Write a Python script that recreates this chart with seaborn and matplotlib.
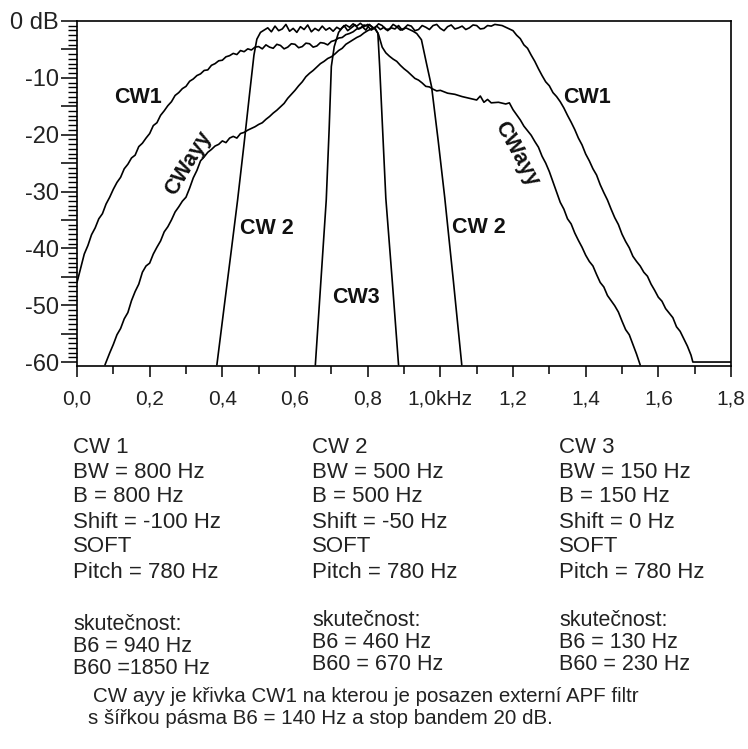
import numpy as np
import pandas as pd
import matplotlib
matplotlib.use("Agg")
import matplotlib.pyplot as plt
import seaborn as sns
from matplotlib.ticker import MultipleLocator

# ---------------- data (frequency in kHz, attenuation in dB) ----------------
cw1_f = [0.000, 0.010, 0.020, 0.030, 0.040, 0.050, 0.060, 0.070, 0.080, 0.090,
         0.100, 0.110, 0.120, 0.130, 0.140, 0.150, 0.160, 0.170, 0.180, 0.190,
         0.200, 0.210, 0.220, 0.230, 0.240, 0.250, 0.260, 0.270, 0.280, 0.290,
         0.300, 0.310, 0.320, 0.330, 0.340, 0.350, 0.360, 0.370, 0.380, 0.390,
         0.400, 0.410, 0.420, 0.430, 0.440, 0.450, 0.460, 0.470, 0.480, 0.490,
         0.500, 0.510, 0.520, 0.530, 0.540, 0.550, 0.560, 0.570, 0.580, 0.590,
         0.600, 0.610, 0.620, 0.630, 0.640, 0.650, 0.660, 0.670, 0.680, 0.690,
         0.700, 0.710, 0.720, 0.730, 0.740, 0.750, 0.760, 0.770, 0.780, 0.790,
         0.800, 0.810, 0.820, 0.830, 0.840, 0.850, 0.860, 0.870, 0.880, 0.890,
         0.900, 0.910, 0.920, 0.930, 0.940, 0.950, 0.960, 0.970, 0.980, 0.990,
         1.000, 1.010, 1.020, 1.030, 1.040, 1.050, 1.060, 1.070, 1.080, 1.090,
         1.100, 1.110, 1.120, 1.130, 1.140, 1.150, 1.160, 1.170, 1.180, 1.190,
         1.200, 1.210, 1.220, 1.230, 1.240, 1.250, 1.260, 1.270, 1.280, 1.290,
         1.300, 1.310, 1.320, 1.330, 1.340, 1.350, 1.360, 1.370, 1.380, 1.390,
         1.400, 1.410, 1.420, 1.430, 1.440, 1.450, 1.460, 1.470, 1.480, 1.490,
         1.500, 1.510, 1.520, 1.530, 1.540, 1.550, 1.560, 1.570, 1.580, 1.590,
         1.600, 1.610, 1.620, 1.630, 1.640, 1.650, 1.660, 1.670, 1.680, 1.690,
         1.695, 1.800]
cw1_db = [-46.0, -43.5, -41.0, -39.5, -37.6, -36.4, -34.8, -33.9, -32.2, -31.0,
          -29.6, -28.4, -27.5, -26.0, -25.2, -24.1, -23.6, -22.1, -21.5, -20.6,
          -19.8, -18.4, -17.9, -16.6, -15.8, -14.9, -14.2, -13.1, -12.6, -11.9,
          -11.5, -10.6, -10.2, -9.6, -9.3, -8.7, -8.6, -7.8, -7.5, -7.0,
          -6.9, -6.3, -6.1, -5.7, -5.9, -5.2, -5.4, -4.9, -5.1, -4.6,
          -4.5, -4.9, -4.2, -4.6, -4.8, -4.1, -4.3, -4.9, -4.6, -4.0,
          -4.1, -4.7, -4.5, -3.9, -4.0, -4.6, -4.4, -3.8, -3.9, -4.2,
          -3.6, -3.4, -3.0, -2.9, -2.4, -2.2, -1.9, -1.4, -1.3, -0.7,
          -0.9, -1.6, -1.2, -0.5, -0.8, -1.5, -1.4, -0.6, -1.0, -1.6,
          -1.3, -0.7, -0.9, -1.7, -1.5, -0.8, -1.1, -1.5, -0.8, -0.6,
          -1.3, -1.7, -1.0, -0.7, -1.4, -1.2, -0.9, -1.5, -1.2, -0.7,
          -0.8, -1.4, -1.3, -0.8, -0.9, -0.6, -0.7, -0.8, -1.1, -1.4,
          -1.7, -2.5, -3.1, -4.2, -4.8, -6.0, -7.1, -8.4, -9.6, -10.7,
          -11.4, -12.6, -13.3, -14.2, -15.3, -16.6, -17.8, -19.1, -20.6, -21.8,
          -23.4, -24.6, -26.0, -27.1, -28.8, -30.2, -31.5, -33.1, -34.6, -35.8,
          -37.5, -38.8, -39.9, -41.4, -42.3, -43.1, -44.2, -44.9, -46.3, -47.4,
          -48.6, -49.3, -50.6, -51.4, -52.2, -53.8, -54.6, -55.9, -57.2, -58.8,
          -60.0, -60.0]

cwayy_f = [0.077, 0.090, 0.100, 0.110, 0.120, 0.130, 0.140, 0.150, 0.160, 0.170,
           0.180, 0.190, 0.200, 0.210, 0.220, 0.230, 0.240, 0.250, 0.260, 0.270,
           0.280, 0.290, 0.300, 0.310, 0.320, 0.330, 0.340, 0.350, 0.360, 0.370,
           0.380, 0.390, 0.400, 0.410, 0.420, 0.430, 0.440, 0.450, 0.460, 0.470,
           0.480, 0.490, 0.500, 0.510, 0.520, 0.530, 0.540, 0.550, 0.560, 0.570,
           0.580, 0.590, 0.600, 0.610, 0.620, 0.630, 0.640, 0.650, 0.660, 0.670,
           0.680, 0.690, 0.700, 0.710, 0.720, 0.730, 0.740, 0.750, 0.760, 0.770,
           0.780, 0.790, 0.800, 0.810, 0.820, 0.830, 0.840, 0.850, 0.860, 0.870,
           0.880, 0.890, 0.900, 0.910, 0.920, 0.930, 0.940, 0.950, 0.960, 0.970,
           0.980, 0.990, 1.000, 1.020, 1.040, 1.060, 1.080, 1.100, 1.110, 1.120,
           1.130, 1.140, 1.160, 1.180, 1.190, 1.200, 1.210, 1.220, 1.230, 1.240,
           1.250, 1.260, 1.270, 1.280, 1.290, 1.300, 1.310, 1.320, 1.330, 1.340,
           1.350, 1.360, 1.370, 1.380, 1.390, 1.400, 1.410, 1.420, 1.430, 1.440,
           1.450, 1.460, 1.470, 1.480, 1.490, 1.500, 1.510, 1.520, 1.530, 1.540,
           1.550]
cwayy_db = [-60.5, -58.4, -56.9, -55.2, -54.1, -52.4, -51.3, -49.2, -47.6, -46.3,
            -44.2, -43.1, -42.6, -41.0, -39.8, -38.7, -37.1, -36.2, -35.0, -33.6,
            -32.7, -31.7, -31.0, -29.4, -27.6, -26.3, -24.6, -23.9, -23.1, -22.6,
            -22.0, -21.7, -21.1, -21.4, -20.6, -20.3, -20.6, -19.8, -19.6, -19.2,
            -18.9, -18.6, -18.2, -17.9, -17.3, -16.8, -16.2, -15.7, -15.1, -14.5,
            -13.6, -12.9, -12.2, -11.4, -10.7, -9.8, -9.2, -8.7, -8.1, -7.5,
            -7.1, -6.6, -6.3, -5.8, -5.2, -4.8, -4.1, -3.7, -3.3, -2.9,
            -2.6, -2.1, -1.7, -1.4, -1.2, -2.4, -4.6, -5.6, -6.2, -6.7,
            -7.1, -7.8, -8.4, -8.9, -9.5, -10.1, -10.4, -10.9, -11.5, -11.6,
            -12.0, -12.3, -12.2, -12.7, -12.9, -13.3, -13.6, -13.9, -13.2, -14.3,
            -13.8, -14.4, -14.3, -14.6, -14.4, -15.6, -16.5, -17.4, -18.5, -19.3,
            -20.1, -21.2, -22.2, -23.8, -25.0, -26.5, -28.3, -30.1, -31.9, -33.1,
            -34.8, -35.7, -37.3, -38.6, -39.8, -41.2, -42.3, -43.1, -44.6, -46.0,
            -46.8, -48.3, -49.2, -50.1, -51.2, -52.8, -54.3, -55.2, -56.9, -58.6,
            -60.5]

cw2_f = [0.385, 0.405, 0.425, 0.442, 0.460, 0.475, 0.487, 0.495, 0.505, 0.515,
         0.525, 0.535, 0.545, 0.555, 0.565, 0.575, 0.585, 0.595, 0.605, 0.615,
         0.625, 0.635, 0.645, 0.655, 0.665, 0.675, 0.685, 0.695, 0.705, 0.715,
         0.725, 0.735, 0.745, 0.755, 0.765, 0.775, 0.785, 0.795, 0.805, 0.815,
         0.825, 0.835, 0.845, 0.855, 0.865, 0.875, 0.885, 0.895, 0.905, 0.915,
         0.925, 0.935, 0.948, 0.962, 0.976, 0.994, 1.012, 1.036, 1.059]
cw2_db = [-60.5, -50.3, -40.2, -31.5, -21.5, -12.8, -6.0, -3.2, -2.0, -1.6,
          -1.2, -1.9, -0.9, -1.7, -1.4, -0.6, -1.8, -1.3, -2.0, -1.0,
          -1.5, -0.7, -1.9, -1.3, -1.7, -0.9, -1.6, -1.2, -1.8, -1.1,
          -1.5, -0.8, -1.7, -1.2, -0.7, -1.4, -1.0, -1.6, -0.6, -1.3,
          -0.9, -1.5, -1.1, -1.7, -1.2, -1.4, -0.8, -1.6, -1.2, -1.5,
          -1.8, -2.2, -3.3, -7.5, -11.6, -21.0, -31.0, -45.8, -60.5]

cw3_f = [0.656, 0.671, 0.686, 0.694, 0.700, 0.708, 0.720, 0.730, 0.740, 0.750,
         0.760, 0.770, 0.780, 0.790, 0.800, 0.810, 0.820, 0.828, 0.833, 0.850,
         0.868, 0.885]
cw3_db = [-60.5, -46.0, -31.5, -19.0, -8.0, -4.5, -2.0, -1.2, -0.7, -1.1,
          -0.5, -0.9, -0.4, -1.0, -0.6, -0.9, -1.4, -2.1, -8.0, -31.2,
          -46.0, -60.5]

x_ticks = [0.0, 0.2, 0.4, 0.6, 0.8, 1.0, 1.2, 1.4, 1.6, 1.8]
x_labels = ["0,0", "0,2", "0,4", "0,6", "0,8", "1,0kHz", "1,2", "1,4", "1,6", "1,8"]
y_ticks = [0, -5, -10, -15, -20, -25, -30, -35, -40, -45, -50, -55, -60]
y_labels = ["0 dB", "", "-10", "", "-20", "", "-30", "", "-40", "", "-50", "", "-60"]

# curve labels: text, x (kHz), y (dB), rotation
curve_labels = [("CW1", 0.169, -13.5, 0), ("CW1", 1.405, -13.4, 0),
                ("CWayy", 0.307, -25.0, 59), ("CWayy", 1.209, -23.4, -61),
                ("CW 2", 0.522, -36.5, 0), ("CW 2", 1.107, -36.3, 0),
                ("CW3", 0.767, -48.6, 0)]

col1 = ["CW 1", "BW = 800 Hz", "B = 800 Hz", "Shift = -100 Hz", "SOFT", "Pitch = 780 Hz"]
col2 = ["CW 2", "BW = 500 Hz", "B = 500 Hz", "Shift = -50 Hz", "SOFT", "Pitch = 780 Hz"]
col3 = ["CW 3", "BW = 150 Hz", "B = 150 Hz", "Shift = 0 Hz", "SOFT", "Pitch = 780 Hz"]
real1 = ["skutečnost:", "B6 = 940 Hz", "B60 =1850 Hz"]
real2 = ["skutečnost:", "B6 = 460 Hz", "B60 = 670 Hz"]
real3 = ["skutečnost:", "B6 = 130 Hz", "B60 = 230 Hz"]
note = ["CW ayy je křivka CW1 na kterou je posazen externí APF filtr",
        "s šířkou pásma B6 = 140 Hz a stop bandem 20 dB."]

# ---------------- figure ----------------
sns.set_theme(style="ticks")
plt.rcParams['font.family'] = ['Liberation Sans', 'DejaVu Sans']
plt.rcParams['axes.edgecolor'] = 'black'
plt.rcParams['xtick.color'] = 'black'
plt.rcParams['ytick.color'] = 'black'

W, H = 748, 749
fig = plt.figure(figsize=(W / 100, H / 100), dpi=100)
fig.patch.set_facecolor('white')
ax = fig.add_axes([77 / W, 1 - 366 / H, (731 - 77) / W, (366 - 21) / H])
ax.set_facecolor('white')

df = pd.concat([
    pd.DataFrame({"f": cw1_f, "db": cw1_db, "curve": "CW1"}),
    pd.DataFrame({"f": cwayy_f, "db": cwayy_db, "curve": "CWayy"}),
    pd.DataFrame({"f": cw2_f, "db": cw2_db, "curve": "CW2"}),
    pd.DataFrame({"f": cw3_f, "db": cw3_db, "curve": "CW3"}),
], ignore_index=True)

sns.lineplot(data=df, x="f", y="db", units="curve", estimator=None, sort=False,
             color="black", linewidth=1.2, ax=ax, legend=False)

ax.set_xlim(0, 1.8)
ax.set_ylim(-60.7, 0)
ax.set_xlabel("")
ax.set_ylabel("")
ax.set_xticks(x_ticks)
ax.set_xticklabels(x_labels)
ax.xaxis.set_minor_locator(MultipleLocator(0.1))
ax.set_yticks(y_ticks)
ax.set_yticklabels(y_labels)
ax.yaxis.set_minor_locator(MultipleLocator(5 / 6))

ax.tick_params(axis='x', which='major', direction='out', length=8, width=1.1, pad=9,
               labelsize=15, colors='black', labelcolor='#222222')
ax.tick_params(axis='x', which='minor', direction='out', length=5.5, width=1.1)
ax.tick_params(axis='y', which='major', direction='out', length=11.5, width=1.1, pad=1.5,
               labelsize=17, colors='black', labelcolor='#222222')
ax.tick_params(axis='y', which='minor', direction='out', length=6.5, width=1.0)
ax.tick_params(top=False, right=False, which='both')
for sp in ax.spines.values():
    sp.set_visible(True)
    sp.set_linewidth(1.2)
    sp.set_color('black')

for txt, x, y, rot in curve_labels:
    ax.text(x, y, txt, ha='center', va='center', fontsize=15.5, fontweight='bold',
            rotation=rot, rotation_mode='anchor', color='#111111')

# ---------------- text block below the chart ----------------
def ftext(px, py, s, size=16):
    fig.text(px / W, 1 - py / H, s, ha='left', va='center', fontsize=size, color='#222222')

for cx, col in [(73, col1), (312, col2), (559, col3)]:
    for i, line in enumerate(col):
        ftext(cx, 447 + 25 * i, line)

for cx, y0, col in [(73, 625, real1), (312, 621, real2), (559, 621, real3)]:
    for i, line in enumerate(col):
        ftext(cx, y0 + 22 * i, line, size=15.5)

ftext(93, 696, note[0], size=14.8)
ftext(88, 719, note[1], size=14.8)

fig.savefig("out.png", dpi=100, facecolor='white')
